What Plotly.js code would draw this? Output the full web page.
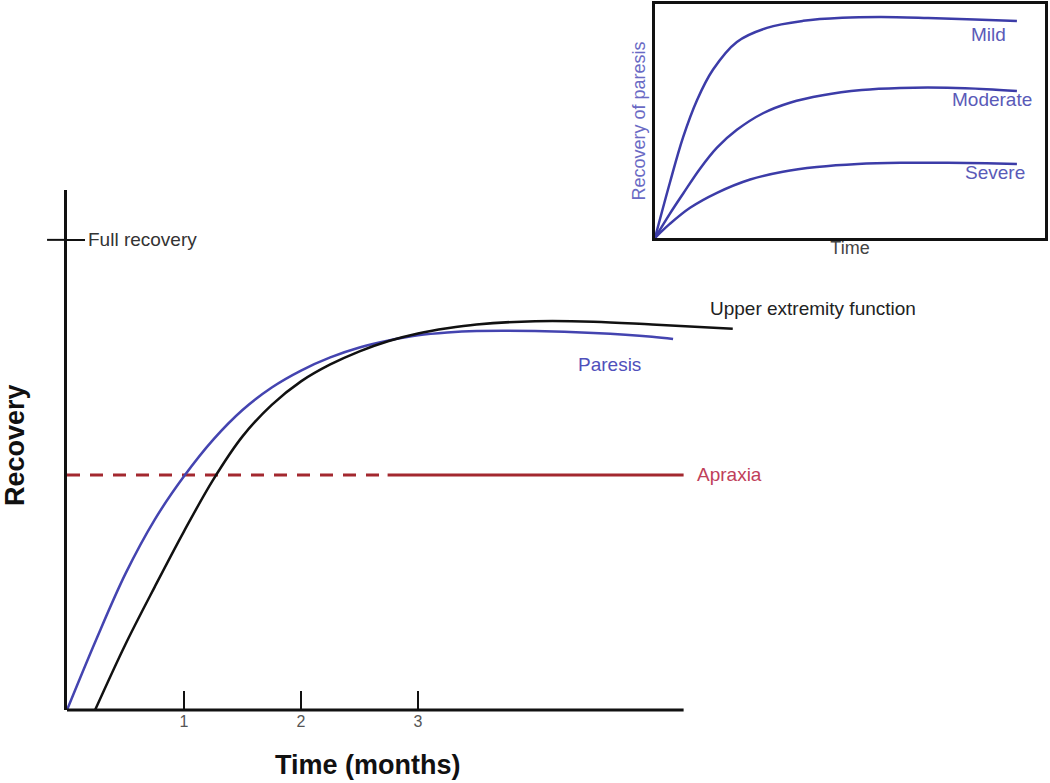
<!DOCTYPE html>
<html>
<head>
<meta charset="utf-8">
<script src="https://cdn.plot.ly/plotly-3.0.1.min.js"></script>
<style>
  html, body { margin: 0; padding: 0; background: #fff; }
  #plot { width: 1050px; height: 783px; }
</style>
</head>
<body>
<div id="plot"></div>
<script>
// main chart: recovery after stroke, months on x
var paresisMonths = [0, 0.25, 0.5, 0.75, 1.0, 1.25, 1.5, 1.75, 2.0, 2.25, 2.5, 2.75, 3.0, 3.25, 3.5, 4.0, 4.5, 5.0, 5.18]
var paresisRecovery = [0, 0.15, 0.29, 0.405, 0.497, 0.575, 0.638, 0.686, 0.722, 0.75, 0.771, 0.786, 0.797, 0.803, 0.806, 0.806, 0.802, 0.794, 0.789]

var upperMonths = [0.24, 0.5, 0.75, 1.0, 1.25, 1.5, 1.75, 2.0, 2.25, 2.5, 2.75, 3.0, 3.25, 3.5, 4.0, 4.5, 5.0, 5.69]
var upperRecovery = [0, 0.14, 0.262, 0.38, 0.49, 0.582, 0.649, 0.699, 0.735, 0.763, 0.785, 0.801, 0.812, 0.82, 0.827, 0.826, 0.82, 0.811]

var apraxiaLevel = 0.5
var apraxiaDashedMonths = [0, 2.72]
var apraxiaSolidMonths = [2.74, 5.27]

var monthTicks = [1, 2, 3]
var fullRecovery = 1
var axisEndMonth = 5.27

// inset: recovery of paresis by severity (arbitrary time units)
var mildTime = [0, 0.38, 0.72, 1.08, 1.49, 2.1, 2.87, 3.8, 4.8, 5.8, 7.0, 8.2, 9.28]
var mildRecovery = [0, 0.235, 0.43, 0.59, 0.72, 0.838, 0.898, 0.928, 0.941, 0.944, 0.94, 0.934, 0.927]
var moderateTime = [0, 0.38, 0.72, 1.15, 1.59, 2.1, 2.77, 3.46, 4.3, 5.3, 6.28, 7.5, 8.5, 9.28]
var moderateRecovery = [0, 0.103, 0.189, 0.295, 0.386, 0.462, 0.533, 0.578, 0.61, 0.632, 0.641, 0.642, 0.636, 0.628]
var severeTime = [0, 0.38, 0.9, 1.59, 2.44, 3.28, 4.15, 5.2, 6.3, 7.5, 8.5, 9.28]
var severeRecovery = [0, 0.06, 0.129, 0.193, 0.25, 0.283, 0.303, 0.316, 0.321, 0.321, 0.319, 0.316]

var FONT = 'Liberation Sans, Arial, sans-serif'
var BLUE = '#4444b0'
var INSET_BLUE = '#3c3ca8'
var RED = '#a3282f'

function insetTrace(x, y, name) {
  return {x: x, y: y, xaxis: 'x2', yaxis: 'y2', mode: 'lines', type: 'scatter',
          line: {color: INSET_BLUE, width: 2.5, shape: 'spline'}, name: name}
}

var traces = [
  {x: apraxiaDashedMonths, y: [apraxiaLevel, apraxiaLevel], mode: 'lines', type: 'scatter',
   line: {color: RED, width: 3, dash: '13px,10px'}, name: 'Apraxia (early)'},
  {x: apraxiaSolidMonths, y: [apraxiaLevel, apraxiaLevel], mode: 'lines', type: 'scatter',
   line: {color: RED, width: 3}, name: 'Apraxia'},
  {x: paresisMonths, y: paresisRecovery, mode: 'lines', type: 'scatter',
   line: {color: BLUE, width: 2.5, shape: 'spline'}, name: 'Paresis'},
  {x: upperMonths, y: upperRecovery, mode: 'lines', type: 'scatter',
   line: {color: '#111', width: 2.5, shape: 'spline'}, name: 'Upper extremity function'},
  insetTrace(mildTime, mildRecovery, 'Mild'),
  insetTrace(moderateTime, moderateRecovery, 'Moderate'),
  insetTrace(severeTime, severeRecovery, 'Severe')
]

var layout = {
  width: 1050,
  height: 783,
  showlegend: false,
  margin: {l: 67, r: 5, t: 4, b: 73},
  paper_bgcolor: '#fff',
  plot_bgcolor: 'rgba(0,0,0,0)',
  font: {family: FONT, color: '#222'},
  xaxis: {
    domain: [0, 0.7086], range: [0, 5.923], showline: false, zeroline: false, showgrid: false,
    tickvals: monthTicks, ticks: 'inside', ticklen: 19, tickwidth: 2, tickcolor: '#111',
    tickfont: {size: 16, color: '#555'}
  },
  yaxis: {
    domain: [0, 0.7365], range: [0, 1.106], showline: true, linewidth: 3, linecolor: '#111',
    zeroline: false, showgrid: false, showticklabels: false,
    tickvals: [fullRecovery], ticks: 'inside', ticklen: 18, tickwidth: 2, tickcolor: '#111'
  },
  xaxis2: {
    domain: [0.6012, 1], range: [0, 10], anchor: 'y2', showline: true, mirror: true,
    linewidth: 3, linecolor: '#111', zeroline: false, showgrid: false, showticklabels: false, ticks: '',
    title: {text: 'Time', font: {size: 18, color: '#444'}, standoff: 2}
  },
  yaxis2: {
    domain: [0.6686, 1], range: [0, 1], anchor: 'x2', showline: true, mirror: true,
    linewidth: 3, linecolor: '#111', zeroline: false, showgrid: false, showticklabels: false, ticks: '',
    title: {text: 'Recovery of paresis', font: {size: 18, color: '#6a6ac4'}, standoff: 2}
  },
  shapes: [
    // x axis line stops short of the plot edge
    {type: 'line', xref: 'x', yref: 'paper', x0: 0, x1: axisEndMonth, y0: 0, y1: 0,
     line: {color: '#111', width: 3}},
    // left half of the full recovery tick
    {type: 'line', xref: 'paper', yref: 'y', x0: -0.0204, x1: 0, y0: fullRecovery, y1: fullRecovery,
     line: {color: '#111', width: 2}}
  ],
  annotations: [
    {text: 'Full recovery', x: 0.0194, y: fullRecovery, xref: 'paper', yref: 'y', xanchor: 'left',
     showarrow: false, font: {size: 19, color: '#333'}},
    {text: 'Upper extremity function', x: 5.479, y: 0.853, xref: 'x', yref: 'y', xanchor: 'left',
     showarrow: false, font: {size: 19, color: '#222'}},
    {text: 'Paresis', x: 4.64, y: 0.734, xref: 'x', yref: 'y', xanchor: 'center',
     showarrow: false, font: {size: 19, color: '#5050bb'}},
    {text: 'Apraxia', x: 5.368, y: apraxiaLevel, xref: 'x', yref: 'y', xanchor: 'left',
     showarrow: false, font: {size: 19, color: '#c0405a'}},
    {text: '<b>Time (months)</b>', x: 0.3078, y: -0.0779, xref: 'paper', yref: 'paper',
     xanchor: 'center', yanchor: 'middle', showarrow: false, font: {size: 27, color: '#111'}},
    {text: '<b>Recovery</b>', x: -0.0532, y: 0.3754, xref: 'paper', yref: 'paper', textangle: -90,
     xanchor: 'center', yanchor: 'middle', showarrow: false, font: {size: 27, color: '#111'}},
    {text: 'Mild', x: 8.54, y: 0.868, xref: 'x2', yref: 'y2', xanchor: 'center', showarrow: false,
     font: {size: 19, color: '#5a5ab8'}},
    {text: 'Moderate', x: 8.64, y: 0.59, xref: 'x2', yref: 'y2', xanchor: 'center', showarrow: false,
     font: {size: 19, color: '#5a5ab8'}},
    {text: 'Severe', x: 8.72, y: 0.278, xref: 'x2', yref: 'y2', xanchor: 'center', showarrow: false,
     font: {size: 19, color: '#5a5ab8'}}
  ]
}

Plotly.newPlot('plot', traces, layout, {staticPlot: true})
</script>
</body>
</html>
